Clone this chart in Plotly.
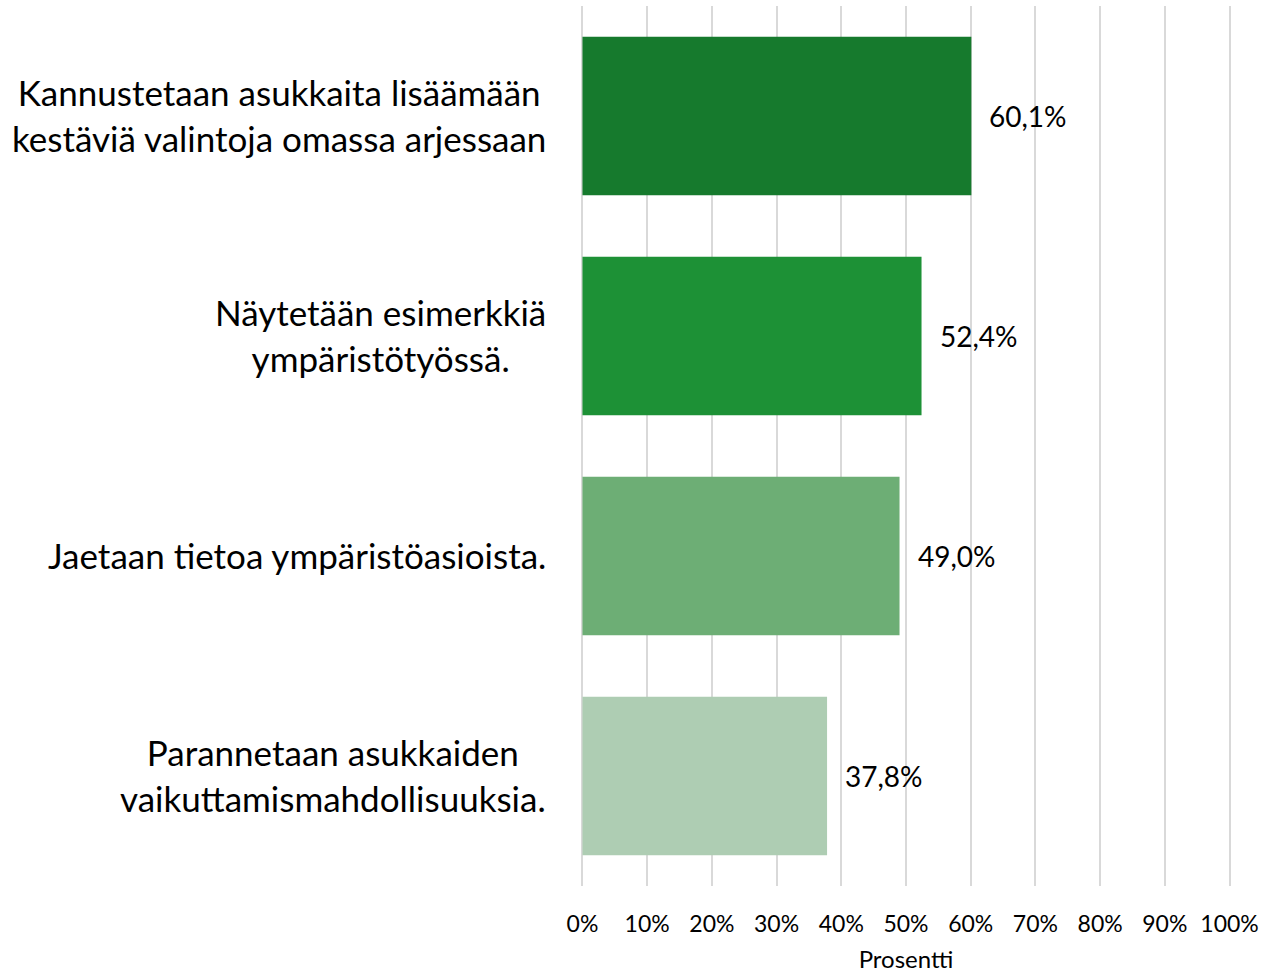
import plotly.graph_objects as go

categories = [
    "Kannustetaan asukkaita lisäämään<br>kestäviä valintoja omassa arjessaan",
    "Näytetään esimerkkiä<br>ympäristötyössä.",
    "Jaetaan tietoa ympäristöasioista.",
    "Parannetaan asukkaiden<br>vaikuttamismahdollisuuksia.",
]
values = [60.1, 52.4, 49.0, 37.8]
value_labels = ["60,1%", "52,4%", "49,0%", "37,8%"]
colors = ["#167A2D", "#1D9136", "#6DAE75", "#AECDB3"]
tick_vals = [0, 10, 20, 30, 40, 50, 60, 70, 80, 90, 100]
tick_text = ["0%", "10%", "20%", "30%", "40%", "50%", "60%", "70%", "80%", "90%", "100%"]

FONT = "Lato, Carlito, Calibri, sans-serif"

fig = go.Figure()
fig.add_trace(go.Bar(
    x=values,
    y=categories,
    orientation="h",
    marker=dict(color=colors, line=dict(width=0)),
    hoverinfo="skip",
))

for cat, v, lab in zip(categories, values, value_labels):
    fig.add_annotation(
        x=v, xref="x", xshift=16,
        y=cat, yref="y",
        text=lab, showarrow=False,
        xanchor="left", yanchor="middle",
        font=dict(size=28, color="#000000", family=FONT),
    )
    fig.add_annotation(
        x=0, xref="x", xshift=-34, yshift=1,
        y=cat, yref="y",
        text=cat, showarrow=False,
        xanchor="right", yanchor="middle", align="center",
        font=dict(size=35, color="#000000", family=FONT),
    )

fig.update_layout(
    width=1262, height=973,
    margin=dict(l=576, r=26, t=6, b=87),
    paper_bgcolor="white", plot_bgcolor="white",
    bargap=0.28,
    showlegend=False,
    font=dict(family=FONT, color="#000000"),
)
fig.update_xaxes(
    range=[-1, 101],
    automargin=False,
    tickvals=tick_vals, ticktext=tick_text,
    tickfont=dict(size=23, color="#000000", family=FONT),
    ticklabelstandoff=22,
    showgrid=True, gridcolor="#D9D9D9", gridwidth=2,
    zeroline=False, showline=False, ticks="",
    title=dict(text="Prosentti", font=dict(size=24, color="#000000", family=FONT), standoff=24),
)
fig.update_yaxes(
    categoryorder="array", categoryarray=categories,
    autorange="reversed", automargin=False,
    showticklabels=False, showgrid=False, zeroline=False, showline=False,
)

fig.write_html("out.html", config={"displayModeBar": False},
               post_script="document.body.style.margin='0';")
